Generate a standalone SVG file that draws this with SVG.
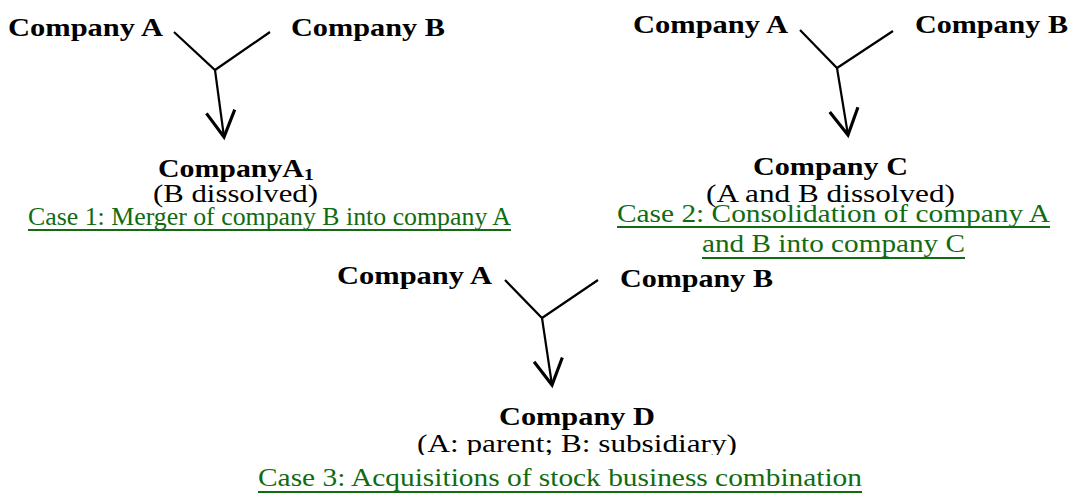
<svg xmlns="http://www.w3.org/2000/svg" width="1072" height="495" viewBox="0 0 1072 495">
  <style>
    .name { font-family: "Liberation Serif", "Times New Roman", serif; font-weight: bold; font-size: 25px; fill: #000; }
    .note { font-family: "Liberation Serif", "Times New Roman", serif; font-size: 25px; fill: #000; }
    .case { font-family: "Liberation Serif", "Times New Roman", serif; font-size: 25px; fill: #116b11; }
    .uline { stroke: #116b11; stroke-width: 2; }
    .link { fill: none; stroke: #000; stroke-width: 2.2; stroke-linejoin: miter; }
  </style>
  <defs>
    <marker id="arrowOpen" markerUnits="userSpaceOnUse" markerWidth="40" markerHeight="40" refX="0" refY="0" viewBox="-22 -14 26 28" orient="auto" overflow="visible">
      <path d="M -18 -10 L 0 0 L -18 10" fill="none" stroke="#000" stroke-width="2.2"/>
    </marker>
    <!-- descenders of the case 3 note are cut off by the caption box -->
    <clipPath id="clipSub">
      <rect x="0" y="420" width="1072" height="35"/>
    </clipPath>
  </defs>
  <rect width="1072" height="495" fill="#fff"/>

  <!-- Connectors -->
  <g id="connectors">
    <polyline class="link" points="174,32 215,70 270,32"/>
    <line class="link" x1="215" y1="70" x2="224" y2="137" marker-end="url(#arrowOpen)"/>
    <polyline class="link" points="800,30 837,68 893,31"/>
    <line class="link" x1="837" y1="68" x2="848" y2="135" marker-end="url(#arrowOpen)"/>
    <polyline class="link" points="505,280 542,318 598,280"/>
    <line class="link" x1="542" y1="318" x2="552" y2="385" marker-end="url(#arrowOpen)"/>
  </g>

  <!-- Case 1: merger -->
  <g id="case1-companyA"><text class="name" x="8" y="36" textLength="155" lengthAdjust="spacingAndGlyphs">Company A</text></g>
  <g id="case1-companyB"><text class="name" x="291" y="36" textLength="154" lengthAdjust="spacingAndGlyphs">Company B</text></g>
  <g id="case1-result">
    <text class="name" x="158" y="177" textLength="156" lengthAdjust="spacingAndGlyphs">CompanyA<tspan font-size="17" dy="3">1</tspan></text>
    <text class="note" x="153" y="202" textLength="165" lengthAdjust="spacingAndGlyphs">(B dissolved)</text>
  </g>
  <g id="case1-caption">
    <text class="case" x="28" y="225" textLength="483" lengthAdjust="spacingAndGlyphs">Case 1: Merger of company B into company A</text>
    <line class="uline" x1="28" y1="230" x2="511" y2="230"/>
  </g>

  <!-- Case 2: consolidation -->
  <g id="case2-companyA"><text class="name" x="633" y="33" textLength="155" lengthAdjust="spacingAndGlyphs">Company A</text></g>
  <g id="case2-companyB"><text class="name" x="915" y="33" textLength="153" lengthAdjust="spacingAndGlyphs">Company B</text></g>
  <g id="case2-result">
    <text class="name" x="753" y="175" textLength="155" lengthAdjust="spacingAndGlyphs">Company C</text>
    <text class="note" x="706" y="202" textLength="249" lengthAdjust="spacingAndGlyphs">(A and B dissolved)</text>
  </g>
  <g id="case2-caption">
    <text class="case" x="617" y="222" textLength="433" lengthAdjust="spacingAndGlyphs">Case 2: Consolidation of company A</text>
    <line class="uline" x1="617" y1="227" x2="1050" y2="227"/>
    <text class="case" x="702" y="252" textLength="263" lengthAdjust="spacingAndGlyphs">and B into company C</text>
    <line class="uline" x1="702" y1="258" x2="965" y2="258"/>
  </g>

  <!-- Case 3: acquisition of stock -->
  <g id="case3-companyA"><text class="name" x="337" y="284" textLength="155" lengthAdjust="spacingAndGlyphs">Company A</text></g>
  <g id="case3-companyB"><text class="name" x="620" y="287" textLength="153" lengthAdjust="spacingAndGlyphs">Company B</text></g>
  <g id="case3-result">
    <text class="name" x="499" y="425" textLength="156" lengthAdjust="spacingAndGlyphs">Company D</text>
    <text class="note" x="417" y="452" textLength="320" lengthAdjust="spacingAndGlyphs" clip-path="url(#clipSub)">(A: parent; B: subsidiary)</text>
  </g>
  <g id="case3-caption">
    <text class="case" x="258" y="486" textLength="604" lengthAdjust="spacingAndGlyphs">Case 3: Acquisitions of stock business combination</text>
    <line class="uline" x1="258" y1="492" x2="862" y2="492"/>
  </g>
</svg>
